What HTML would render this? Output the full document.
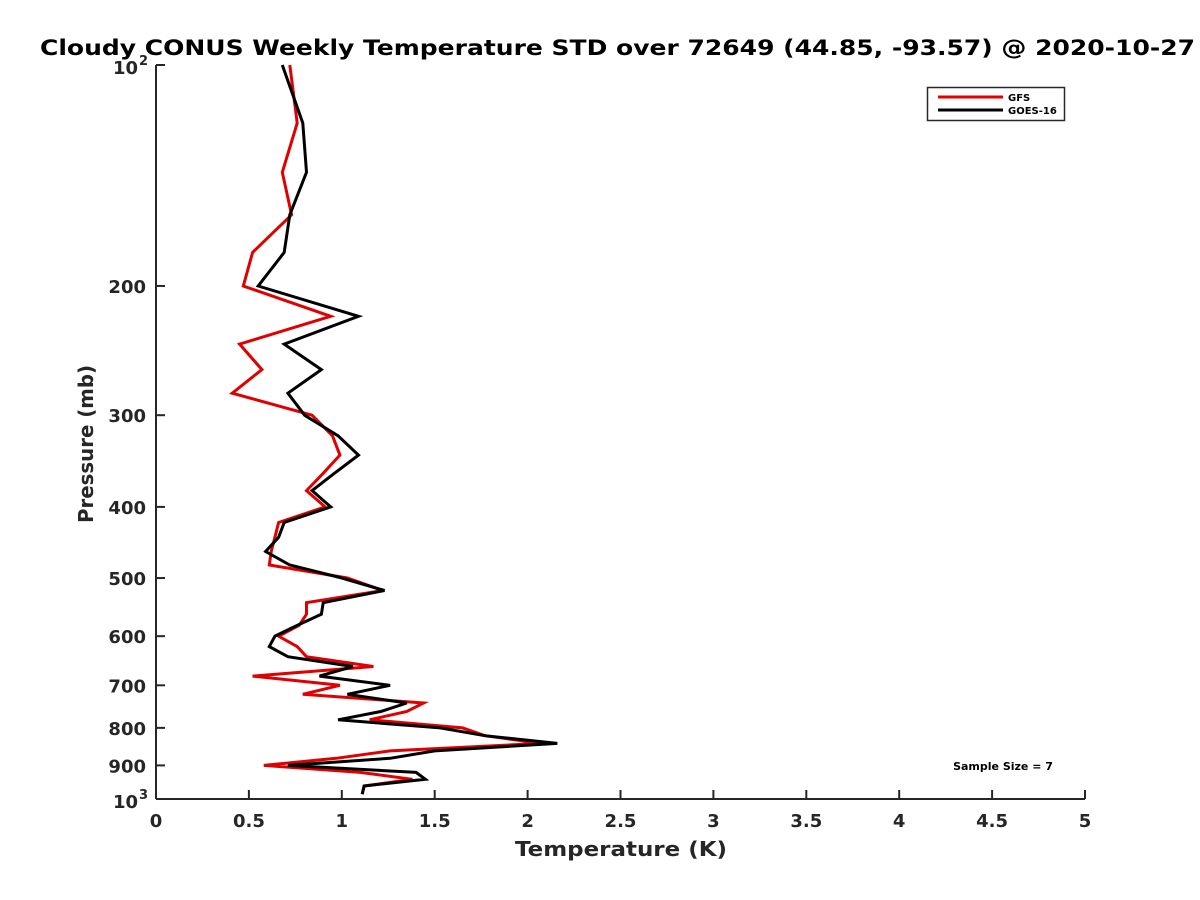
<!DOCTYPE html>
<html><head><meta charset="utf-8"><style>
html,body{margin:0;padding:0;background:#fff;}
svg{display:block;font-family:"DejaVu Sans","Liberation Sans",sans-serif;}
</style></head><body>
<svg id="chart" width="1200" height="900" viewBox="0 0 1200 900" xmlns="http://www.w3.org/2000/svg">
<rect width="1200" height="900" fill="#fff"/>
<text x="40" y="55" textLength="1155" lengthAdjust="spacingAndGlyphs" font-size="21" font-weight="bold" fill="#000">Cloudy CONUS Weekly Temperature STD over 72649 (44.85, -93.57) @ 2020-10-27</text>
<g id="axes"></g>
<g id="series"></g>
<text transform="translate(93,523) rotate(-90)" textLength="158" lengthAdjust="spacingAndGlyphs" font-size="20" font-weight="bold" fill="#262626">Pressure (mb)</text>
<text x="515" y="856" textLength="212" lengthAdjust="spacingAndGlyphs" font-size="20" font-weight="bold" fill="#262626">Temperature (K)</text>
<g>
<rect x="927.5" y="87.5" width="137" height="33" fill="#fff" stroke="#262626" stroke-width="1.5"/>
<line x1="938" y1="97" x2="1003" y2="97" stroke="#e00000" stroke-width="3"/>
<text x="1008" y="101" font-size="10" font-weight="bold" fill="#000">GFS</text>
<line x1="938" y1="110" x2="1003" y2="110" stroke="#000" stroke-width="3"/>
<text x="1008" y="114" font-size="10" font-weight="bold" fill="#000">GOES-16</text>
</g>
<text x="1003" y="770" text-anchor="middle" font-size="11" font-weight="bold" fill="#000">Sample Size = 7</text>
</svg>
<script>
const pressures = [100,120,140,160,180,200,220,240,260,280,300,320,340,360,380,400,420,440,460,480,500,520,540,560,580,600,620,640,660,680,700,720,740,760,780,800,820,840,860,880,900,920,940,960,985];
const gfsStd = [0.72,0.76,0.68,0.73,0.52,0.47,0.94,0.45,0.57,0.41,0.84,0.95,0.99,0.90,0.81,0.91,0.66,0.64,0.62,0.61,1.03,1.22,0.81,0.81,0.77,0.66,0.76,0.81,1.17,0.52,0.99,0.79,1.44,1.35,1.15,1.65,1.77,2.07,1.26,0.97,0.58,1.10,1.38,1.12,1.11];
const goesStd = [0.68,0.79,0.81,0.72,0.69,0.55,1.09,0.69,0.89,0.71,0.80,0.98,1.09,0.96,0.84,0.94,0.69,0.66,0.59,0.72,1.00,1.23,0.90,0.89,0.76,0.64,0.61,0.71,1.06,0.88,1.26,1.03,1.35,1.21,0.98,1.53,1.77,2.16,1.50,1.26,0.71,1.40,1.45,1.12,1.11];
const xTicks = [0,0.5,1,1.5,2,2.5,3,3.5,4,4.5,5];
const yTicks = [100,200,300,400,500,600,700,800,900,1000];

const NS = "http://www.w3.org/2000/svg";
const X0 = 156, X1 = 1085, Y0 = 65, Y1 = 799;
const xs = v => X0 + (v - 0) / 5 * (X1 - X0);
const ys = p => Y0 + Math.log10(p / 100) * (Y1 - Y0);
function mk(tag, attrs, parent){const e=document.createElementNS(NS,tag);for(const k in attrs)e.setAttribute(k,attrs[k]);parent.appendChild(e);return e;}
const axes = document.getElementById('axes');
const yAxis = mk('line',{x1:X0,y1:Y0,x2:X0,y2:Y1,stroke:'#262626','stroke-width':2},axes);


const xAxis = mk('line',{x1:X0,y1:Y1,x2:X1,y2:Y1,stroke:'#262626','stroke-width':2},axes);


xTicks.forEach(v=>{
  const x = xs(v);
  const t = mk('line',{x1:x,y1:Y1,x2:x,y2:Y1-9,stroke:'#262626','stroke-width':2},axes);
  
  
  const l = mk('text',{x:x,y:Y1+28,'text-anchor':'middle','font-size':18,'font-weight':'bold',fill:'#262626'},axes);
  l.textContent = String(v);
  
  
});
yTicks.forEach(p=>{
  const y = ys(p);
  const t = mk('line',{x1:X0,y1:y,x2:X0+9,y2:y,stroke:'#262626','stroke-width':2},axes);
  
  
  const l = mk('text',{x:X0-10,y:y+7,'text-anchor':'end','font-size':18,'font-weight':'bold',fill:'#262626'},axes);
  
  
  if(p===100||p===1000){
    l.setAttribute('x',X0-18);
    l.setAttribute('y',y+9);
    l.textContent = '10';
    const s = mk('text',{x:X0-8,y:y,'text-anchor':'end','font-size':13,'font-weight':'bold',fill:'#262626'},axes);
    s.textContent = p===100?'2':'3';
    
    
  } else l.textContent = String(p);
});
const series = document.getElementById('series');
[[gfsStd,'#e00000','gfs-line'],[goesStd,'#000','goes16-line']].forEach(([vals,col,name])=>{
  const pts = vals.map((v,i)=>xs(v).toFixed(1)+','+ys(pressures[i]).toFixed(1)).join(' ');
  const pl = mk('polyline',{points:pts,fill:'none',stroke:col,'stroke-width':3,'stroke-linejoin':'miter'},series);
  
  
});
</script>
</body></html>
